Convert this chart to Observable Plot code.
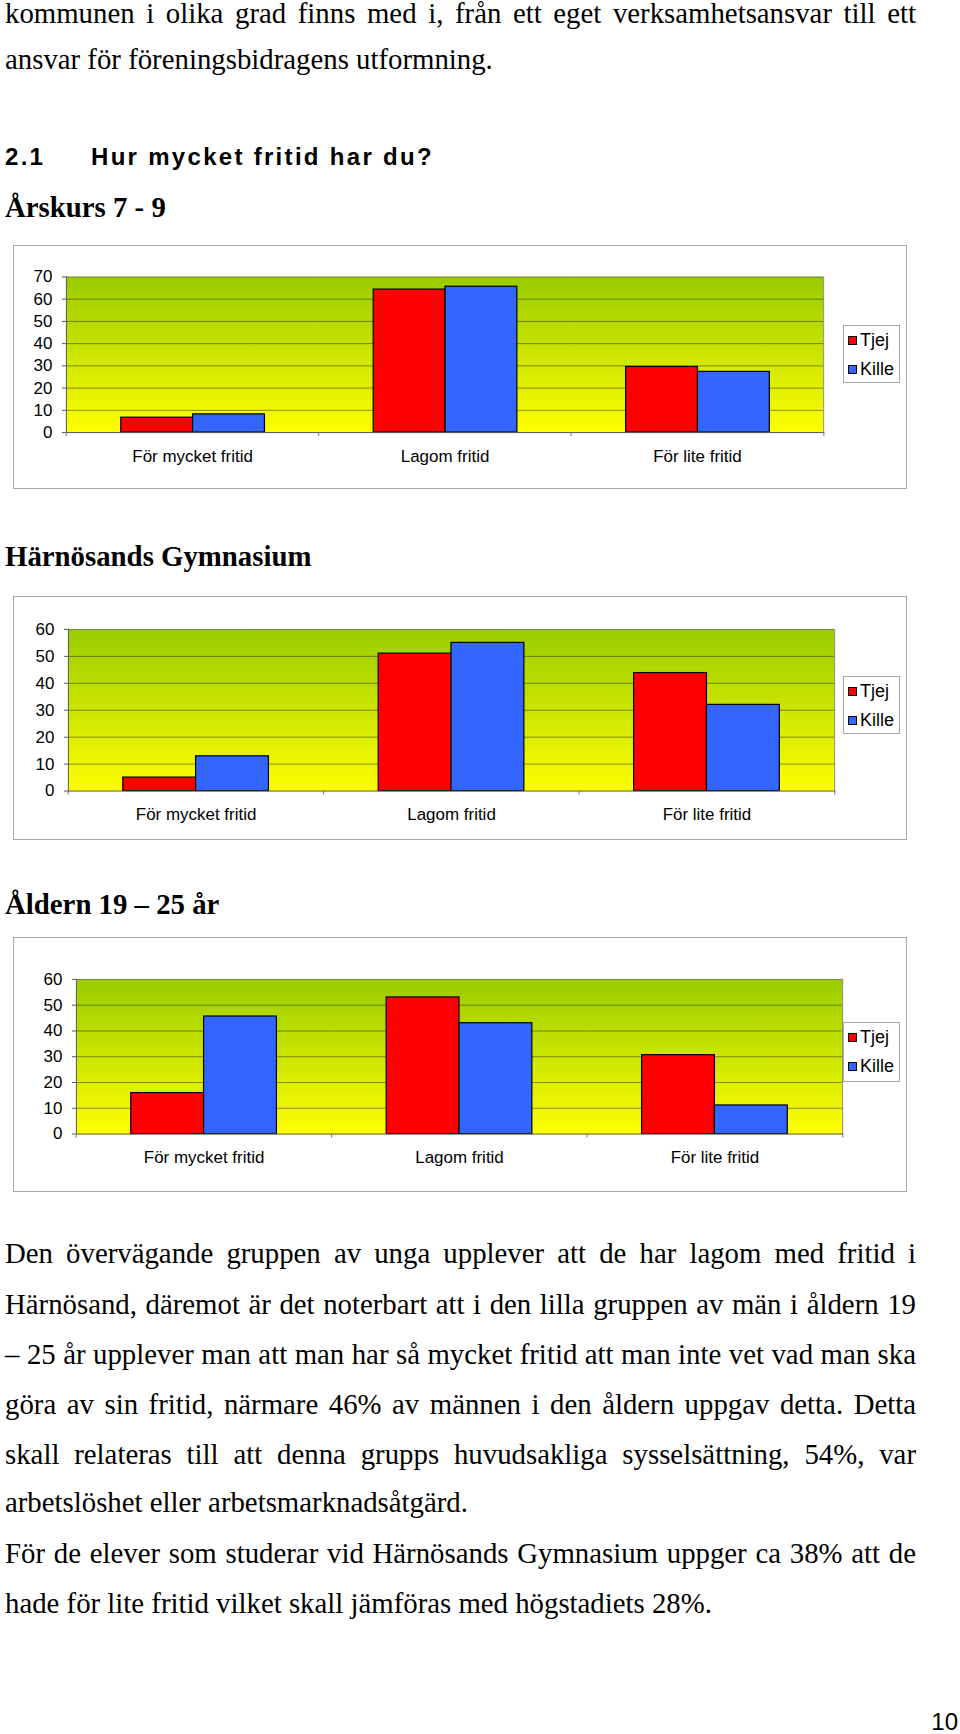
<!DOCTYPE html>
<html>
<head>
<meta charset="utf-8">
<script src="https://cdn.jsdelivr.net/npm/d3@7"></script>
<script src="https://cdn.jsdelivr.net/npm/@observablehq/plot@0.6"></script>
<style>
  html, body { margin: 0; padding: 0; background: #fff; }
  body { position: relative; width: 960px; height: 1734px; overflow: hidden; color: #000; }
  .t { position: absolute; left: 5px; font-family: "Liberation Serif", "Times New Roman", serif; font-size: 28.8px; line-height: 1; white-space: nowrap; }
  .j { width: 911px; text-align: justify; text-align-last: justify; }
  .b { font-weight: bold; }
  .h2 { position: absolute; font-family: "Liberation Sans", Arial, sans-serif; font-weight: bold; font-size: 24px; line-height: 1; letter-spacing: 2.3px; white-space: nowrap; }
  .box { position: absolute; left: 13px; width: 894px; box-sizing: border-box; border: 1px solid #a8a8a8; background: #fff; }
  .box svg { position: absolute; left: -1px; top: -1px; }
  .legend { position: absolute; box-sizing: border-box; border: 1px solid #a8a8a8; background: #fff; width: 57px; font-family: "Liberation Sans", Arial, sans-serif; font-size: 18px; }
  .legend .row { position: absolute; left: 0; height: 20px; line-height: 20px; white-space: nowrap; }
  .legend .sw { position: absolute; left: 4px; top: 6px; width: 7px; height: 7px; border: 1px solid #000; }
  .legend .lb { position: absolute; left: 16px; top: 0; }
  .pn { position: absolute; right: 2px; font-family: "Liberation Sans", Arial, sans-serif; font-size: 24px; line-height: 1; }
</style>
</head>
<body>
<div class="t j" style="top:-1px">kommunen i olika grad finns med i, från ett eget verksamhetsansvar till ett</div>
<div class="t" style="top:45px">ansvar för föreningsbidragens utformning.</div>
<div class="h2" style="left:5px;top:145px">2.1</div>
<div class="h2" style="left:91px;top:145px">Hur mycket fritid har du?</div>
<div class="t b" style="top:193px">Årskurs 7 - 9</div>
<div class="t b" style="top:542px">Härnösands Gymnasium</div>
<div class="t b" style="top:890px">Åldern 19 – 25 år</div>

<div class="t j" style="top:1239px">Den övervägande gruppen av unga upplever att de har lagom med fritid i</div>
<div class="t j" style="top:1290px">Härnösand, däremot är det noterbart att i den lilla gruppen av män i åldern 19</div>
<div class="t j" style="top:1340px">– 25 år upplever man att man har så mycket fritid att man inte vet vad man ska</div>
<div class="t j" style="top:1390px">göra av sin fritid, närmare 46% av männen i den åldern uppgav detta. Detta</div>
<div class="t j" style="top:1440px">skall relateras till att denna grupps huvudsakliga sysselsättning, 54%, var</div>
<div class="t" style="top:1488px">arbetslöshet eller arbetsmarknadsåtgärd.</div>
<div class="t j" style="top:1539px">För de elever som studerar vid Härnösands Gymnasium uppger ca 38% att de</div>
<div class="t" style="top:1589px">hade för lite fritid vilket skall jämföras med högstadiets 28%.</div>
<div class="pn" style="top:1710px">10</div>

<script>
// ---- data ----
const categories = ["För mycket fritid", "Lagom fritid", "För lite fritid"];
const series = ["Tjej", "Kille"];
const seriesColors = ["#FF0000", "#3366FF"];

const arskursTjej = [6.7, 64.3, 29.5];
const arskursKille = [8.2, 65.6, 27.3];

const gymnasiumTjej = [5.0, 51.0, 43.8];
const gymnasiumKille = [12.9, 55.0, 32.0];

const aldernTjej = [15.9, 53.0, 30.6];
const aldernKille = [45.6, 43.0, 11.1];

const ticks70 = [0, 10, 20, 30, 40, 50, 60, 70];
const ticks60 = [0, 10, 20, 30, 40, 50, 60];

function makeChart({ top, height, tjej, kille, yTicks, ml, mr, mt, mb, legendTop, legendHeight, id }) {
  const width = 894;
  const rows = [];
  categories.forEach((c, i) => {
    rows.push({ cat: c, kon: series[0], v: tjej[i] });
    rows.push({ cat: c, kon: series[1], v: kille[i] });
  });
  const half = (width - ml - mr) / categories.length / 2;
  const yMax = yTicks[yTicks.length - 1];

  const svg = Plot.plot({
    width, height,
    marginLeft: ml, marginRight: mr, marginTop: mt, marginBottom: mb,
    style: { fontFamily: '"Liberation Sans", Arial, sans-serif', fontSize: "17px", color: "#000", background: "transparent", overflow: "visible" },
    fx: { domain: categories, padding: 0, label: null },
    x: { domain: series, paddingInner: 0, paddingOuter: 0.75, axis: null },
    y: { domain: [0, yMax], label: null },
    color: { domain: series, range: seriesColors },
    marks: [
      Plot.frame({ facet: "super", fill: `url(#${id})`, stroke: "none" }),
      Plot.ruleY(yTicks.slice(1), { stroke: "#000", strokeOpacity: 0.42 }),
      Plot.barY(rows, { fx: "cat", x: "kon", y: "v", fill: "kon", stroke: "#000", strokeWidth: 1.2 }),
      Plot.frame({ facet: "super", anchor: "right", stroke: "#8c8c8c" }),
      Plot.frame({ facet: "super", anchor: "left", stroke: "#555" }),
      Plot.frame({ facet: "super", anchor: "bottom", stroke: "#555" }),
      Plot.axisY({ ticks: yTicks, tickSize: 4, tickPadding: 10, label: null, stroke: "#555", fill: "#000" }),
      Plot.axisFx({ anchor: "bottom", tickSize: 0, tickPadding: 17, label: null, fill: "#000" }),
      Plot.axisFx({ anchor: "bottom", tickSize: 4, fill: "none", label: null, stroke: "#777", dx: -half }),
      Plot.axisFx({ anchor: "bottom", ticks: [categories[categories.length - 1]], tickSize: 4, fill: "none", label: null, stroke: "#777", dx: half })
    ]
  });

  const defs = document.createElementNS("http://www.w3.org/2000/svg", "defs");
  defs.innerHTML = `<linearGradient id="${id}" x1="0" y1="0" x2="0" y2="1">
      <stop offset="0" stop-color="#99CC00"/>
      <stop offset="1" stop-color="#FFFF00"/>
    </linearGradient>`;
  svg.insertBefore(defs, svg.firstChild);

  const box = document.createElement("div");
  box.className = "box";
  box.style.top = top + "px";
  box.style.height = height + "px";
  box.appendChild(svg);

  const lg = document.createElement("div");
  lg.className = "legend";
  lg.style.left = (843 - 13 - 1) + "px";
  lg.style.top = (legendTop - top - 1) + "px";
  lg.style.height = legendHeight + "px";
  series.forEach((s, i) => {
    const row = document.createElement("div");
    row.className = "row";
    row.style.top = (4 + i * 29) + "px";
    const sw = document.createElement("span");
    sw.className = "sw";
    sw.style.background = seriesColors[i];
    const lb = document.createElement("span");
    lb.className = "lb";
    lb.textContent = s;
    row.appendChild(sw);
    row.appendChild(lb);
    lg.appendChild(row);
  });
  box.appendChild(lg);
  document.body.appendChild(box);
}

makeChart({ top: 245, height: 244, tjej: arskursTjej, kille: arskursKille, yTicks: ticks70,
  ml: 52, mr: 82, mt: 31.5, mb: 56.5, legendTop: 325, legendHeight: 58, id: "g1" });
makeChart({ top: 596, height: 244, tjej: gymnasiumTjej, kille: gymnasiumKille, yTicks: ticks60,
  ml: 54, mr: 71, mt: 33, mb: 49, legendTop: 676, legendHeight: 58, id: "g2" });
makeChart({ top: 937, height: 255, tjej: aldernTjej, kille: aldernKille, yTicks: ticks60,
  ml: 62, mr: 63, mt: 42, mb: 58, legendTop: 1022, legendHeight: 60, id: "g3" });
</script>
</body>
</html>
